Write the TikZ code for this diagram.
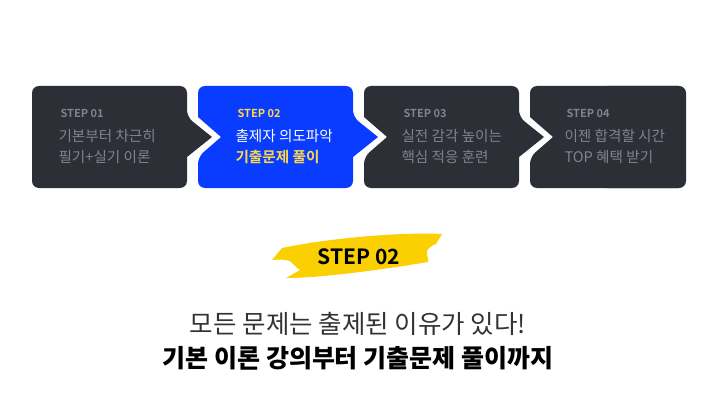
\documentclass[tikz,border=0pt]{standalone}
\usepackage{fontspec}
\setmainfont{Noto Sans CJK KR}
\newfontfamily\kb{Noto Sans CJK KR Bold}
\newfontfamily\kbl{Noto Sans CJK KR Black}
\begin{document}
\begin{tikzpicture}[x=1pt,y=-1pt,
  stepbox/.style={rounded corners=7pt},
  steplbl/.style={anchor=west,font=\kb\fontsize{11}{12}\selectfont},
  steptxt/.style={anchor=north west,align=left,font=\fontsize{14.6}{20.5}\selectfont}]
\definecolor{dk}{HTML}{2D2F37}
\definecolor{bl}{HTML}{0A3CFF}
\definecolor{gt}{HTML}{80838C}
\definecolor{yl}{HTML}{FFD84A}
\definecolor{br}{HTML}{FAD000}
\fill[white] (0,0) rectangle (716,420);
\useasboundingbox (0,0) rectangle (716,420);
% boxes
\foreach \x/\c/\n in {32/dk/0,198/bl/1,364/dk/1,530/dk/1}{
  \ifnum\n=0
  \fill[\c,stepbox] (\x,86) -- (\x+155,86) -- (\x+155,117) [sharp corners]-- (\x+180,137) -- (\x+155,157) [rounded corners=7pt]-- (\x+155,188) -- (\x,188) -- cycle;
  \else
  \fill[\c,stepbox] (\x,86) -- (\x+155,86) -- (\x+155,117) [sharp corners]-- (\x+180,137) -- (\x+155,157) [rounded corners=7pt]-- (\x+155,188) -- (\x,188) -- (\x,157) [sharp corners]-- (\x+23,137) -- (\x,117) [rounded corners=7pt]-- cycle;
  \fi}
\fill[white] (686,80) rectangle (716,200);
\fill[dk,rounded corners=7pt] (600,86) -- (686,86) -- (686,188) -- (600,188) -- cycle;
\node[steplbl,text=gt] (l1) at (57,113) {STEP 01};
\node[steptxt,text=gt] (t1) at (55,126) {기본부터 차근히\\필기+실기 이론};
\node[steplbl,text=yl] (l2) at (234,113) {STEP 02};
\node[steptxt,text=white] (t2) at (232,126) {출제자 의도파악\\{\kb\color{yl}기출문제 풀이}};
\node[steplbl,text=gt] (l3) at (400,113) {STEP 03};
\node[steptxt,text=gt] (t3) at (398,126) {실전 감각 높이는\\핵심 적응 훈련};
\node[steplbl,text=gt] (l4) at (563,113) {STEP 04};
\node[steptxt,text=gt] (t4) at (561,126) {이젠 합격할 시간\\TOP 혜택 받기};
% brush
\fill[br] (282,248) .. controls (330,238) and (400,232) .. (442,234)
  -- (436,244) .. controls (420,250) and (430,258) .. (428,262)
  .. controls (380,270) and (320,278) .. (286,278)
  -- (300,270) .. controls (290,264) and (296,258) .. (272,260) -- cycle;
\fill[white] (436,244) -- (444,246) -- (434,252) -- cycle;
\fill[white] (286,270) -- (296,266) -- (290,276) -- cycle;
\node[font=\kb\fontsize{21}{24}\selectfont] (s2) at (359,257) {STEP 02};
\node[font=\fontsize{25.5}{30}\selectfont,text=black!80] (m1) at (358,324) {모든 문제는 출제된 이유가 있다!};
\node[font=\kbl\fontsize{25}{30}\selectfont] (m2) at (358,358) {기본 이론 강의부터 기출문제 풀이까지};
\end{tikzpicture}
\end{document}
